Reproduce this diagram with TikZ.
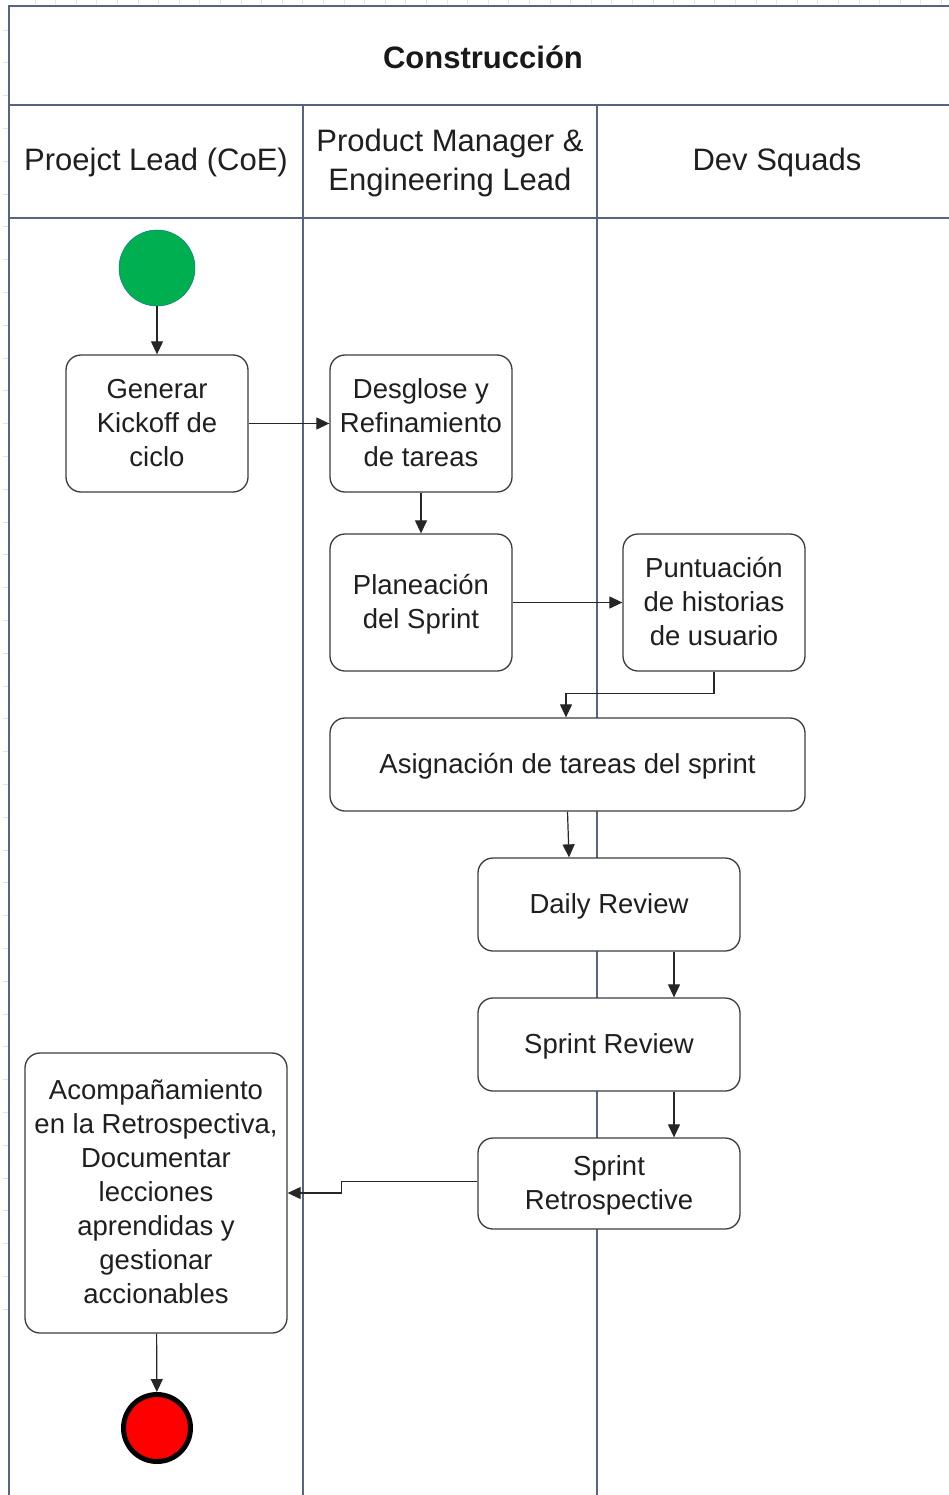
\documentclass[tikz,border=0pt]{standalone}
\usepackage{fontspec}
\setmainfont{Liberation Sans}
\usetikzlibrary{arrows.meta,calc}
\definecolor{lane}{HTML}{56657F}
\definecolor{ink}{HTML}{262626}
\definecolor{startgreen}{HTML}{00B050}
\definecolor{endred}{HTML}{FF0000}
\definecolor{tickgray}{HTML}{E0E2E6}

\begin{document}
\begin{tikzpicture}[x=1pt,y=-1pt,
  lanepen/.style={draw=lane,line width=1.8pt},
  activity/.style={draw=ink!90, line width=1.3pt, rounded corners=15pt, fill=white,
    align=center, inner sep=0pt, text=black!88, font=\fontsize{27.5}{34}\selectfont,
    text depth=2pt},
  flow/.style={draw=ink, line width=1.2pt, -{Triangle[length=13pt,width=12pt]}},
  lanehead/.style={font=\fontsize{31}{39}\selectfont, align=center, text=black!88, inner sep=0pt}
]
\useasboundingbox (0,0) rectangle (949,1495);
\fill[white] (0,0) rectangle (949,1495);

% ruler ticks along the top and left edges
\foreach \k in {0,...,44} {
  \pgfmathsetmacro{\tx}{35+20.6*\k}
  \draw[tickgray, line width=0.8pt] (\tx,0) -- (\tx,4);
}
\foreach \k in {0,...,39} {
  \pgfmathsetmacro{\ty}{30+32.8*\k}
  \draw[tickgray, line width=0.8pt] (3,\ty) -- (8,\ty);
}

% pool frame and lanes
\draw[lanepen] (9,1495) -- (9,6) -- (960,6);
\draw[lanepen] (9,105) -- (960,105);
\draw[lanepen] (9,218) -- (960,218);
\draw[lanepen] (303,105) -- (303,1495);
\draw[lanepen] (597,105) -- (597,1495);

% titles
\node[font=\fontsize{31}{38}\selectfont\bfseries, text=black!90] (pool) at (483,57) {Construcción};
\node[lanehead] (laneA) at (156,162) {Proejct Lead (CoE)};
\node[lanehead] (laneB) at (450,163) {Product Manager \&\\Engineering Lead};
\node[lanehead] (laneC) at (777,162) {Dev Squads};

% start and end states
\node[circle, fill=startgreen, draw=startgreen!70!blue, line width=0.5pt, minimum size=76pt, inner sep=0pt] (start) at (157,268) {};
\node[circle, fill=endred, draw=black, line width=5pt, minimum size=67pt, inner sep=0pt] (finish) at (157,1428) {};

% activities
\node[activity, minimum width=182pt, minimum height=137pt] (kickoff) at (157,423.5) {Generar\\Kickoff de\\ciclo};
\node[activity, minimum width=182pt, minimum height=137pt] (desglose) at (421,423.5) {Desglose y\\Refinamiento\\de tareas};
\node[activity, minimum width=182pt, minimum height=137pt] (planea) at (421,602.5) {Planeación\\del Sprint};
\node[activity, minimum width=182pt, minimum height=137pt] (puntua) at (714,602.5) {Puntuación\\de historias\\de usuario};
\node[activity, minimum width=475pt, minimum height=93pt] (asigna) at (567.5,764.5) {Asignación de tareas del sprint};
\node[activity, minimum width=262pt, minimum height=93pt] (daily) at (609,904.5) {Daily Review};
\node[activity, minimum width=262pt, minimum height=93pt] (sreview) at (609,1044.5) {Sprint Review};
\node[activity, minimum width=262pt, minimum height=91pt] (retro) at (609,1183.5) {Sprint\\Retrospective};
\node[activity, minimum width=262pt, minimum height=280pt] (acomp) at (156,1193) {Acompañamiento\\en la Retrospectiva,\\Documentar\\lecciones\\aprendidas y\\gestionar\\accionables};

% control flow
\draw[flow] (start) -- (kickoff);
\draw[flow] (kickoff) -- (desglose);
\draw[flow] (desglose) -- (planea);
\draw[flow] (planea) -- (puntua);
\draw[flow] (puntua.south) -- ++(0,22) -| ([xshift=-1.5pt]asigna.north);
\draw[flow] (asigna.south) -- ([xshift=-40pt]daily.north);
\draw[flow] ([xshift=65pt]daily.south) -- ([xshift=65pt]sreview.north);
\draw[flow] ([xshift=65pt]sreview.south) -- ([xshift=65pt]retro.north);
\draw[flow] ([yshift=2pt]retro.west) -- ++(-136,0) |- (acomp.east);
\draw[flow] (acomp) -- (finish);
\end{tikzpicture}
\end{document}
